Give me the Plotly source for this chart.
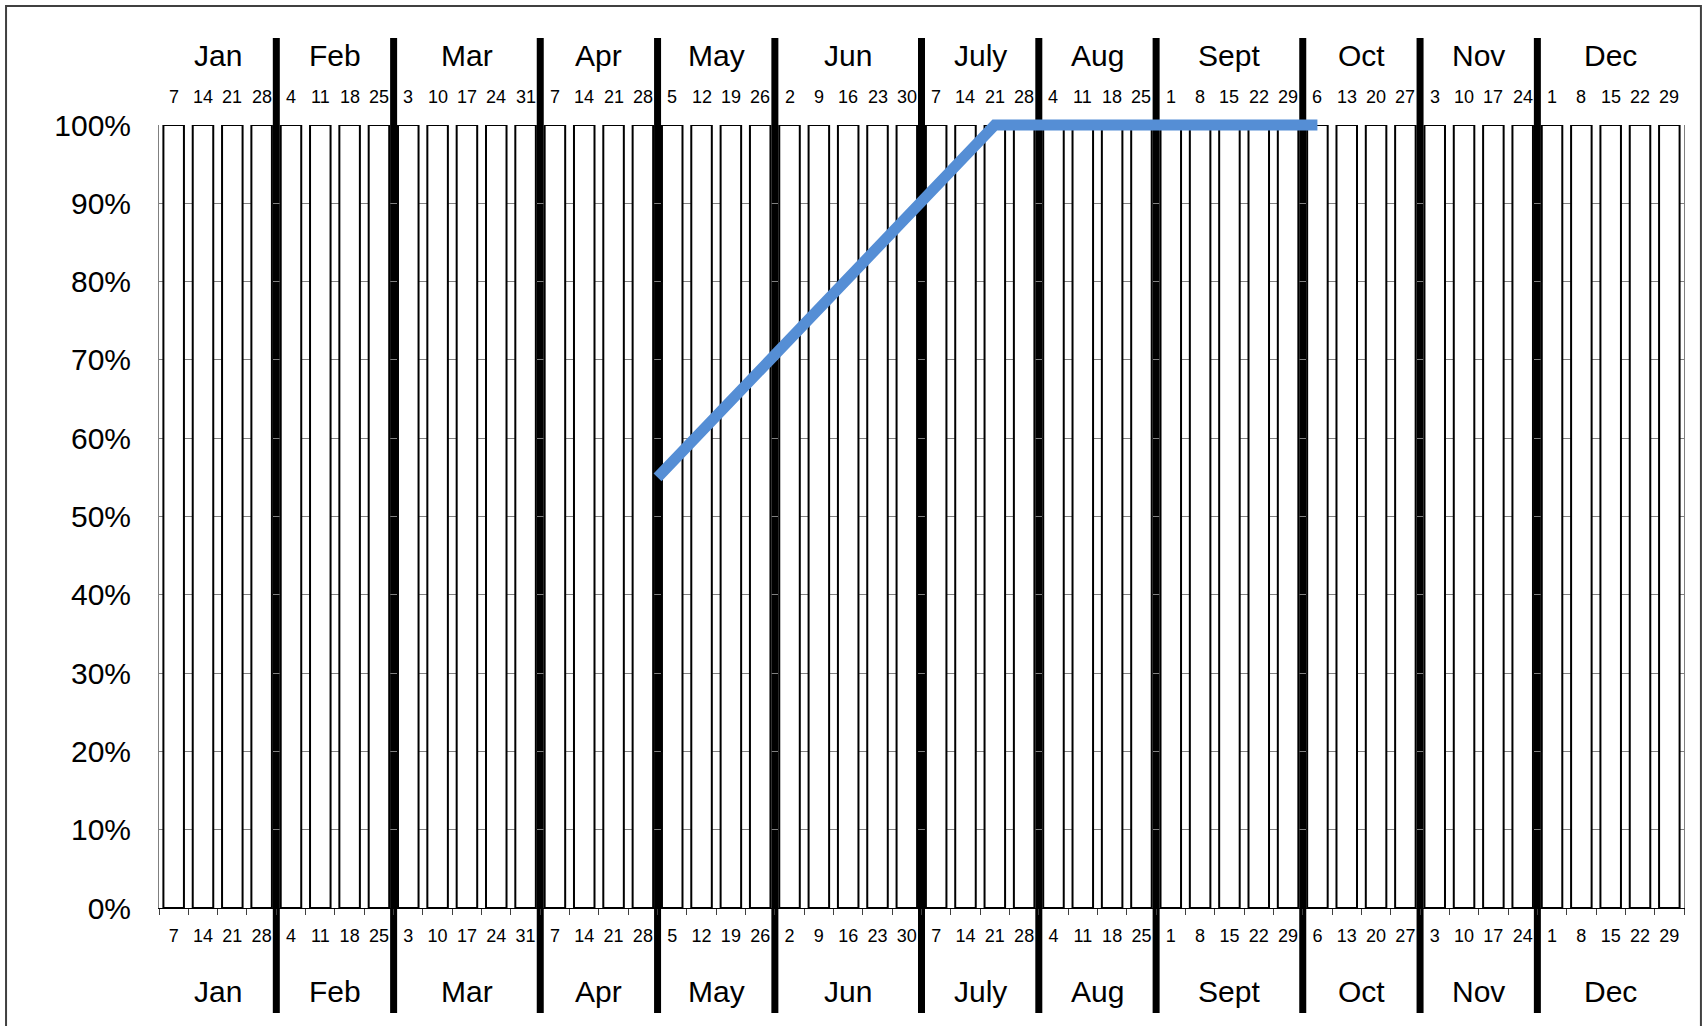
import plotly.graph_objects as go

# Week-ending day labels for the year, grouped by month
week_labels = [
    "7", "14", "21", "28",
    "4", "11", "18", "25",
    "3", "10", "17", "24", "31",
    "7", "14", "21", "28",
    "5", "12", "19", "26",
    "2", "9", "16", "23", "30",
    "7", "14", "21", "28",
    "4", "11", "18", "25",
    "1", "8", "15", "22", "29",
    "6", "13", "20", "27",
    "3", "10", "17", "24",
    "1", "8", "15", "22", "29",
]
months = ["Jan", "Feb", "Mar", "Apr", "May", "Jun",
          "July", "Aug", "Sept", "Oct", "Nov", "Dec"]
weeks_per_month = [4, 4, 5, 4, 4, 5, 4, 4, 5, 4, 4, 5]

# Weekly capacity (%)
capacity = [
    100, 100, 100, 100, 100, 100, 100, 100, 100, 100, 100, 100, 100,
    100, 100, 100, 100, 100, 100, 100, 100, 100, 100, 100, 100, 100,
    100, 100, 100, 100, 100, 100, 100, 100, 100, 100, 100, 100, 100,
    100, 100, 100, 100, 100, 100, 100, 100, 100, 100, 100, 100, 100,
]

# Progress curve: position in weeks (0 = first week) and percent complete
progress_week = [16.5, 28, 39]
progress_pct = [55, 100, 100]

FONT = "Liberation Sans, Arial, sans-serif"
week_idx = list(range(len(week_labels)))

# Plot-area geometry: bars use the lower part, the progress line gets a
# little head-room so its thick stroke is not clipped at 100 %.
PLOT_H = 795
BAR_H = 783
k = BAR_H / PLOT_H  # top of the bar domain in paper units

fig = go.Figure()

fig.add_trace(go.Bar(
    x=week_idx, y=capacity,
    marker=dict(color="white", line=dict(color="black", width=2)),
    showlegend=False, hoverinfo="skip",
))

fig.add_trace(go.Scatter(
    x=progress_week, y=progress_pct, xaxis="x", yaxis="y2",
    mode="lines", line=dict(color="#558ed5", width=11),
    showlegend=False, hoverinfo="skip",
))

# Week labels repeated along the top edge
for i, lab in zip(week_idx, week_labels):
    fig.add_annotation(
        x=i, y=1.0358 * k, xref="x", yref="paper",
        text=lab, showarrow=False,
        font=dict(family=FONT, size=18, color="black"),
        xanchor="center", yanchor="middle",
    )

# Month separators and month names (top and bottom)
start = 0
for name, n in zip(months, weeks_per_month):
    end = start + n
    center = (start + end - 1) / 2
    for ypos in (1.089, -0.1066):
        fig.add_annotation(
            x=center, y=ypos * k, xref="x", yref="paper",
            text=name, showarrow=False,
            font=dict(family=FONT, size=30, color="black"),
            xanchor="center", yanchor="middle",
        )
    if end < len(week_labels):
        fig.add_shape(
            type="line", xref="x", yref="paper",
            x0=end - 0.5, x1=end - 0.5,
            y0=-0.134 * k, y1=1.111 * k,
            line=dict(color="black", width=7), layer="below",
        )
    start = end

# Outer frame of the chart
fig.add_shape(
    type="rect", xref="paper", yref="paper",
    x0=-0.1003, x1=1.0111,
    y0=-0.16 * k, y1=1.152 * k,
    line=dict(color="#404040", width=2), fillcolor="rgba(0,0,0,0)",
    layer="above",
)

fig.update_layout(
    width=1703, height=1026,
    margin=dict(l=159, r=19, t=1026 - 118 - PLOT_H, b=118),
    paper_bgcolor="white", plot_bgcolor="rgba(0,0,0,0)",
    bargap=0.3,
    font=dict(family=FONT, color="black"),
    xaxis=dict(
        range=[-0.5, len(week_labels) - 0.5],
        tickmode="array", tickvals=week_idx, ticktext=week_labels,
        tickfont=dict(family=FONT, size=18, color="black"),
        showgrid=False, zeroline=False,
        anchor="y",
        ticks="", showline=True, linecolor="black", linewidth=1,
        ticklabelstandoff=11,
        minor=dict(tickmode="linear", tick0=-0.5, dtick=1,
                   ticks="outside", ticklen=6, tickcolor="#404040",
                   tickwidth=1, showgrid=False),
    ),
    yaxis=dict(
        domain=[0, k],
        range=[0, 100], tickmode="linear", tick0=0, dtick=10,
        ticksuffix="%",
        tickfont=dict(family=FONT, size=30, color="black"),
        showgrid=True, gridcolor="#808080", gridwidth=1,
        zeroline=False, showline=True, linecolor="#808080", linewidth=1,
        mirror=True, ticks="", ticklabelstandoff=21,
    ),
    yaxis2=dict(
        domain=[0, 1], anchor="x",
        range=[0, 100 / k],
        visible=False, showgrid=False, zeroline=False,
    ),
)

fig.write_html("out.html")
